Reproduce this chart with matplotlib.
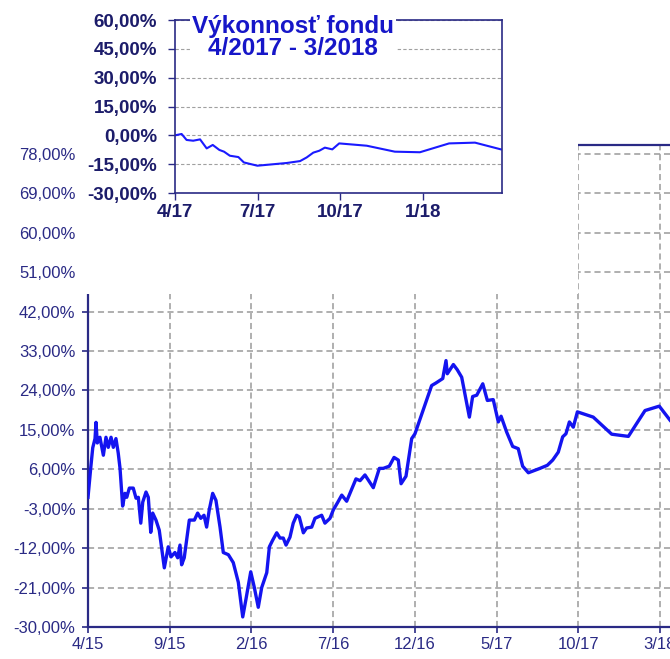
import numpy as np
import matplotlib.pyplot as plt
from matplotlib.patches import Rectangle
from matplotlib.ticker import FuncFormatter

plt.rcParams['font.family'] = ['Liberation Sans', 'DejaVu Sans']

# hlavny graf: mesiace od 4/2015, vykonnost v %
main_m = [0.0, 0.17, 0.29, 0.43, 0.49, 0.57, 0.73, 0.94, 1.10, 1.24, 1.41, 1.55, 1.71, 1.85,
          1.96, 2.12, 2.26, 2.37, 2.53, 2.77, 2.94, 3.08, 3.23, 3.35, 3.55, 3.69, 3.84, 3.96,
          4.16, 4.36, 4.67, 4.91, 5.08, 5.32, 5.49, 5.63, 5.73, 5.89, 6.20, 6.51, 6.71, 6.90,
          7.10, 7.26, 7.42, 7.63, 7.83, 8.08, 8.28, 8.59, 8.89, 9.20, 9.47, 9.67, 9.96, 10.18,
          10.42, 10.63, 10.94, 11.10, 11.30, 11.55, 11.75, 11.95, 12.12, 12.36, 12.56, 12.77,
          12.93, 13.18, 13.38, 13.69, 13.89, 14.30, 14.50, 14.81, 15.01, 15.26, 15.53, 15.83,
          16.40, 16.65, 16.95, 17.46, 17.83, 18.07, 18.44, 18.73, 18.99, 19.16, 19.46, 19.81,
          20.01, 21.03, 21.30, 21.71, 21.91, 21.99, 22.36, 22.60, 22.87, 23.34, 23.54, 23.79,
          24.16, 24.44, 24.80, 25.11, 25.28, 25.62, 25.99, 26.33, 26.60, 26.95, 27.66, 28.11,
          28.44, 28.78, 29.05, 29.25, 29.46, 29.70, 29.95, 30.92, 32.05, 33.07, 34.09, 34.96,
          35.62]
main_v = [-0.4, 6.4, 10.9, 13.0, 16.7, 12.0, 13.3, 9.2, 13.3, 11.0, 13.3, 11.0, 13.0, 9.7,
          6.2, -2.4, 0.5, -0.4, 1.7, 1.7, -0.6, -0.4, -6.3, -1.5, 0.8, -0.4, -8.4, -4.0,
          -5.6, -7.9, -16.5, -11.7, -14.0, -13.0, -14.2, -11.3, -15.8, -14.2, -5.6, -5.6, -4.0, -5.2,
          -4.5, -7.2, -3.3, 0.5, -1.1, -7.2, -13.0, -13.5, -15.3, -19.8, -27.7, -23.6, -17.4, -21.0,
          -25.5, -21.0, -17.6, -11.7, -10.2, -8.5, -9.7, -9.7, -11.3, -9.5, -6.3, -4.5,
          -4.9, -8.5, -7.4, -7.2, -5.2, -4.5, -6.3, -5.2, -3.3, -1.7, 0.1, -1.3,
          3.8, 3.4, 4.7, 1.8, 6.2, 6.2, 6.7, 8.7, 8.1, 2.7, 4.4, 13.0,
          14.1, 25.1, 25.7, 26.7, 30.8, 27.8, 29.9, 28.7, 27.0, 17.9, 22.6, 22.9,
          25.5, 21.7, 21.9, 16.8, 18.1, 14.5, 11.2, 10.7, 6.7, 5.2, 6.2, 6.9,
          8.1, 9.9, 13.4, 14.1, 16.8, 15.6, 19.1, 17.9, 14.0, 13.5, 19.4, 20.4,
          17.2]
main_ticks = [0, 5, 10, 15, 20, 25, 30, 35]
main_labels = ['4/15', '9/15', '2/16', '7/16', '12/16', '5/17', '10/17', '3/18']

# vlozeny graf: mesiace od 4/2017
ins_m = [0.0, 0.24, 0.42, 0.66, 0.91, 1.15, 1.37, 1.61, 1.78, 1.99, 2.30, 2.50, 2.99,
         4.05, 4.54, 4.78, 5.02, 5.24, 5.44, 5.71, 5.96, 6.96, 7.98, 8.89, 9.95, 10.89, 11.83]
ins_v = [0.0, 0.7, -2.4, -2.8, -2.1, -6.8, -5.0, -7.6, -8.5, -10.6, -11.3, -14.1, -15.8,
         -14.4, -13.4, -11.5, -9.0, -8.0, -6.4, -7.3, -4.2, -5.4, -8.5, -8.8, -4.2, -3.8, -7.3]
ins_ticks = [0, 3, 6, 9]
ins_labels = ['4/17', '7/17', '10/17', '1/18']

navy = '#2a2a85'
dark = '#1c1c6a'
W, H = 670, 659


def pct(v, pos):
    return f"{v:.2f}".replace('.', ',') + '%'


fig = plt.figure(figsize=(W / 100, H / 100), dpi=100)

ax = fig.add_axes([88 / W, 32 / H, (680 - 88) / W, (627 - 145) / H])
ax.plot(main_m, main_v, color='#1414f0', linewidth=2.4, zorder=3)
ax.set_xlim(0, (680 - 88) / 16.34)
ax.set_ylim(-30, 80)
ax.set_yticks(np.arange(-30, 79, 9))
ax.yaxis.set_major_formatter(FuncFormatter(pct))
ax.set_xticks(main_ticks)
ax.set_xticklabels(main_labels)
ax.grid(True, linestyle=(0, (4, 2.5)), color='#9a9a9a', linewidth=1.1)
ax.tick_params(axis='y', length=4, width=1.2, color=navy, labelcolor=navy, labelsize=12, pad=5)
ax.tick_params(axis='x', length=4, width=1.2, color=navy, labelcolor=navy, labelsize=12, pad=3)
for s in ax.spines.values():
    s.set_color(navy)
    s.set_linewidth(1.6)

# biely obdlznik pod vlozenym grafom
fig.add_artist(Rectangle((80 / W, (H - 294) / H), (578 - 80) / W, 294 / H,
                         transform=fig.transFigure, facecolor='white',
                         edgecolor='none', zorder=1))

ax2 = fig.add_axes([175 / W, (H - 193) / H, 327 / W, 173 / H], zorder=2)
ax2.plot(ins_m, ins_v, color='#1a1aff', linewidth=1.5)
ax2.set_xlim(0, 11.87)
ax2.set_ylim(-30, 60)
ax2.set_yticks(np.arange(-30, 61, 15))
ax2.yaxis.set_major_formatter(FuncFormatter(pct))
ax2.set_xticks(ins_ticks)
ax2.set_xticklabels(ins_labels)
ax2.grid(True, axis='y', linestyle=(0, (3, 2)), color='#a0a0a0', linewidth=0.8)
ax2.tick_params(axis='y', length=5, width=1, color=navy, labelcolor=dark, labelsize=13.5, pad=8)
ax2.tick_params(axis='x', length=5, width=1, color=navy, labelcolor=dark, labelsize=13.5, pad=3)
for lab in ax2.get_xticklabels() + ax2.get_yticklabels():
    lab.set_fontweight('bold')
for s in ax2.spines.values():
    s.set_color(navy)
    s.set_linewidth(1.2)

ax2.text(0.361, 1.03, 'Výkonnosť fondu\n4/2017 - 3/2018', transform=ax2.transAxes,
         ha='center', va='top', fontsize=17.5, fontweight='bold', color='#1616c8',
         linespacing=0.95, zorder=5,
         bbox=dict(facecolor='white', edgecolor='none', pad=1.5))

fig.savefig('out.png', dpi=100)
